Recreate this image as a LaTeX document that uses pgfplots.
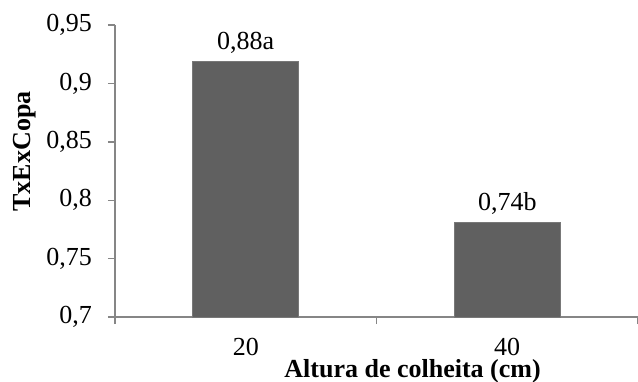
\documentclass[border=0pt]{standalone}
\usepackage{fontspec}
\setmainfont{Liberation Serif}
\usepackage{pgfplots}
\pgfplotsset{compat=1.18}
\usepackage{pgfplotstable}

\definecolor{axisgray}{RGB}{134,134,134}
\definecolor{barfill}{RGB}{96,96,96}

% Harvest height (cm) vs. TxExCopa, with mean-comparison labels
\pgfplotstableread{
x y lab
0 0.919 0,88a
1 0.781 0,74b
}\datatable

\begin{document}
\begin{tikzpicture}[font=\fontsize{13}{15.6}\selectfont]
\begin{axis}[
  name=ax, at={(0,0)}, anchor=south west,
  scale only axis, width=261.5pt, height=146pt,
  xmin=-0.5, xmax=1.5, ymin=0.7, ymax=0.95,
  axis x line=bottom, axis y line=left,
  axis line style={-, axisgray, line width=0.7pt},
  tick align=outside,
  major tick length=3.5pt, minor tick length=3.5pt,
  tick style={axisgray, line width=0.7pt},
  xtick={0,1}, xticklabels={20,40},
  minor xtick={-0.5,0.5,1.5},
  major x tick style={draw=none},
  ytick={0.7,0.75,0.8,0.85,0.9,0.95},
  /pgf/number format/assume math mode=true,
  yticklabel style={xshift=-4.5pt, /pgf/number format/.cd, use comma, fixed, precision=2},
  xticklabel style={yshift=-3.5pt},
  xlabel={\textbf{Altura de colheita (cm)}},
  xlabel style={at={([yshift=-30.3pt]rel axis cs:0.569,0)}, anchor=base},
  ylabel={\textbf{TxExCopa}},
  ylabel style={at={([xshift=-45pt]rel axis cs:0,0.567)}, anchor=center},
]
\addplot[ybar, bar width=53pt, fill=barfill, draw=barfill!85!white,
  nodes near coords, point meta=explicit symbolic,
  nodes near coords style={anchor=base, yshift=6pt, text=black}]
  table[x=x, y=y, meta=lab] {\datatable};
\end{axis}
\pgfresetboundingbox
\useasboundingbox ([xshift=-57.5pt,yshift=-32pt]ax.south west) rectangle ([yshift=12.5pt]ax.north east);
\end{tikzpicture}
\end{document}
